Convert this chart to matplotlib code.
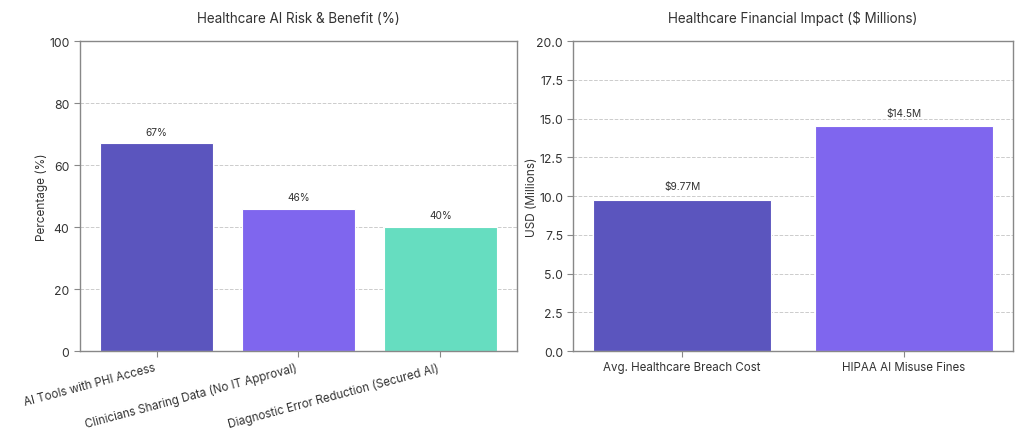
import matplotlib

matplotlib.use("Agg")
import matplotlib.pyplot as plt

plt.rcParams["font.family"] = ["Inter", "DejaVu Sans"]

# Left panel data
risk_labels = [
    "AI Tools with PHI Access",
    "Clinicians Sharing Data (No IT Approval)",
    "Diagnostic Error Reduction (Secured AI)",
]
risk_values = [67, 46, 40]

# Right panel data
cost_labels = ["Avg. Healthcare Breach Cost", "HIPAA AI Misuse Fines"]
cost_values = [9.77, 14.5]
cost_text = ["$9.77M", "$14.5M"]

_INDIGO = "#5B55BE"
_VIOLET = "#7F66EE"
_TEAL = "#66DDC0"

fig = plt.figure(figsize=(10.24, 4.39), dpi=100)
ax1 = fig.add_axes([0.078, 0.198, 0.427, 0.706])
ax2 = fig.add_axes([0.560, 0.198, 0.429, 0.706])

for ax in (ax1, ax2):
    ax.set_axisbelow(True)
    ax.yaxis.grid(True, linestyle="--", color="#cccccc", lw=0.7)
    for s in ax.spines.values():
        s.set_color("#888888")
        s.set_linewidth(1.0)
    ax.tick_params(colors="#333333", labelsize=8.3, length=4, width=0.8)
    ax.tick_params(axis="y", labelsize=8.8)
    ax.tick_params(axis="both", color="#888888")

# --- left panel
x1 = range(len(risk_values))
ax1.bar(x1, risk_values, width=0.8, color=[_INDIGO, _VIOLET, _TEAL],
        edgecolor="white", linewidth=0.8)
for xi, v in zip(x1, risk_values):
    ax1.text(xi, v + 2.2, f"{v}%", ha="center", va="bottom", fontsize=7.3, color="#333333")
ax1.set_ylim(0, 100)
ax1.set_xticks(list(x1))
ax1.set_xticklabels(risk_labels, rotation=15, ha="right")
ax1.set_ylabel("Percentage (%)", fontsize=8.5, color="#333333")
ax1.yaxis.set_label_coords(-0.073, 0.5)
ax1.set_title("Healthcare AI Risk & Benefit (%)", fontsize=9.7, color="#333333", pad=14)

# --- right panel
x2 = range(len(cost_values))
ax2.bar(x2, cost_values, width=0.8, color=[_INDIGO, _VIOLET],
        edgecolor="white", linewidth=0.8)
for xi, v, t in zip(x2, cost_values, cost_text):
    ax2.text(xi, v + 0.55, t, ha="center", va="bottom", fontsize=7.3, color="#333333")
ax2.set_ylim(0, 20)
ax2.set_yticks([0, 2.5, 5, 7.5, 10, 12.5, 15, 17.5, 20])
ax2.set_yticklabels([f"{t:.1f}" for t in ax2.get_yticks()])
ax2.set_xticks(list(x2))
ax2.set_xticklabels(cost_labels)
ax2.set_ylabel("USD (Millions)", fontsize=8.5, color="#333333")
ax2.yaxis.set_label_coords(-0.080, 0.5)
ax2.set_title("Healthcare Financial Impact ($ Millions)", fontsize=9.7, color="#333333", pad=14)

fig.savefig("out.png", dpi=100)
